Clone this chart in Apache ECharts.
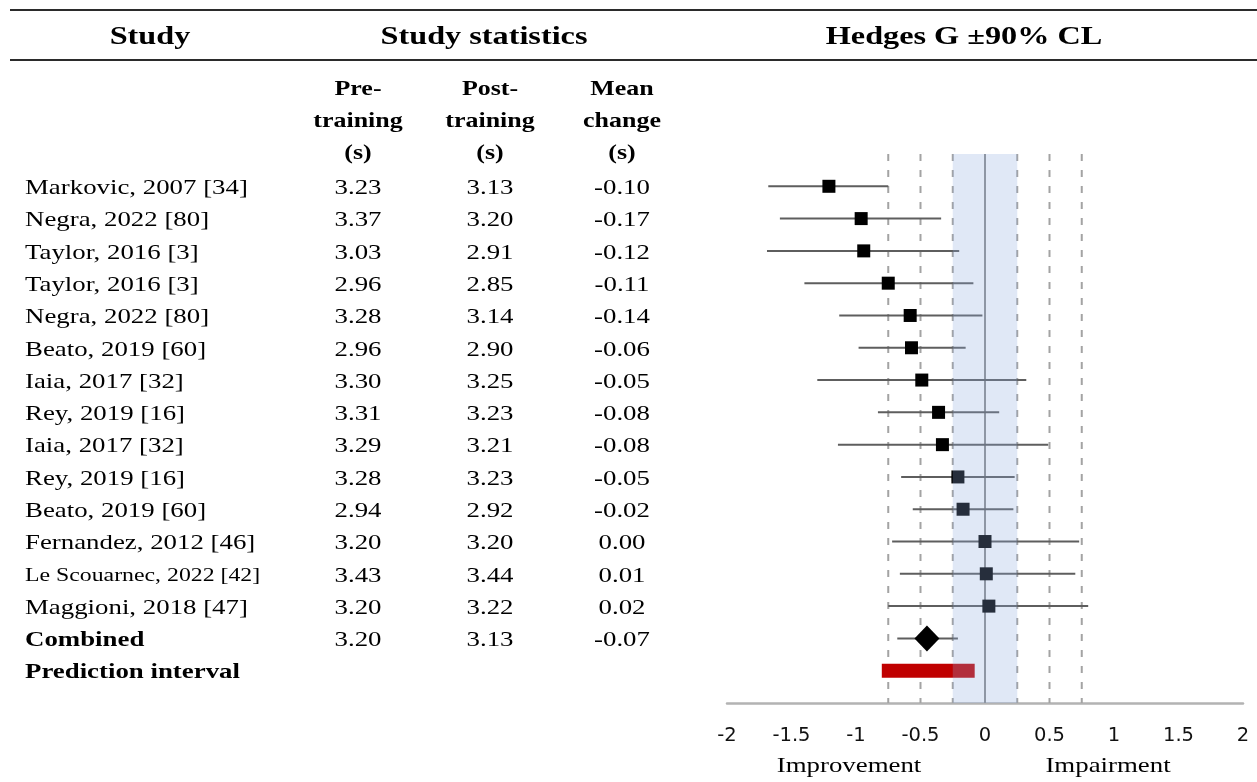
<!DOCTYPE html>
<html><head><meta charset="utf-8">
<script src="https://cdn.jsdelivr.net/npm/echarts@6/dist/echarts.min.js"></script>
<style>html,body{margin:0;padding:0;background:#fff}#chart{width:1257px;height:782px}</style>
</head><body><div id="chart"></div>
<script>
// ---------- data ----------
const studies = ['Markovic, 2007 [34]', 'Negra, 2022 [80]', 'Taylor, 2016 [3]', 'Taylor, 2016 [3]', 'Negra, 2022 [80]', 'Beato, 2019 [60]', 'Iaia, 2017 [32]', 'Rey, 2019 [16]', 'Iaia, 2017 [32]', 'Rey, 2019 [16]', 'Beato, 2019 [60]', 'Fernandez, 2012 [46]', 'Le Scouarnec, 2022 [42]', 'Maggioni, 2018 [47]'];
const preTraining = ['3.23', '3.37', '3.03', '2.96', '3.28', '2.96', '3.30', '3.31', '3.29', '3.28', '2.94', '3.20', '3.43', '3.20'];
const postTraining = ['3.13', '3.20', '2.91', '2.85', '3.14', '2.90', '3.25', '3.23', '3.21', '3.23', '2.92', '3.20', '3.44', '3.22'];
const meanChange = ['-0.10', '-0.17', '-0.12', '-0.11', '-0.14', '-0.06', '-0.05', '-0.08', '-0.08', '-0.05', '-0.02', '0.00', '0.01', '0.02'];
const hedgesG = [-1.21, -0.96, -0.94, -0.75, -0.58, -0.57, -0.49, -0.36, -0.33, -0.21, -0.17, 0.00, 0.01, 0.03];
const lowerCL = [-1.68, -1.59, -1.69, -1.40, -1.13, -0.98, -1.30, -0.83, -1.14, -0.65, -0.56, -0.72, -0.66, -0.75];
const upperCL = [-0.75, -0.34, -0.20, -0.09, -0.02, -0.15, 0.32, 0.11, 0.49, 0.23, 0.22, 0.73, 0.70, 0.80];
const combinedLabel = 'Combined';
const combinedStats = ['3.20', '3.13', '-0.07'];
const combinedG = [-0.45, -0.68, -0.21]; // estimate, lower, upper
const predictionLabel = 'Prediction interval';
const predictionInterval = [-0.80, -0.08];
const referenceLines = [-0.75, -0.5, -0.25, 0.25, 0.5, 0.75];
const trivialBand = [-0.25, 0.25];
const xTicks = { min: -2, max: 2, interval: 0.5 };
const headers = ['Study', 'Study statistics', 'Hedges G ±90% CL'];
const subHeaders = ['Pre-\ntraining\n(s)', 'Post-\ntraining\n(s)', 'Mean\nchange\n(s)'];
const directionLabels = ['Improvement', 'Impairment'];

// ---------- layout ----------
const Y_MIN = -1, Y_MAX = 16;
const SERIF = '"Liberation Serif","Times New Roman",serif';
const BODY_SCALE = 1.22;
const columnX = [25, 358, 490, 622];
const columnAlign = ['left', 'center', 'center', 'center'];
const smallNameRows = [12];
const combinedRow = studies.length, predictionRow = studies.length + 1;

const cells = [];
studies.forEach((s, i) => {
  cells.push({ col: 0, row: i, text: s, bold: false, size: smallNameRows.includes(i) ? 19.5 : 22 });
  cells.push({ col: 1, row: i, text: preTraining[i], bold: false, size: 22 });
  cells.push({ col: 2, row: i, text: postTraining[i], bold: false, size: 22 });
  cells.push({ col: 3, row: i, text: meanChange[i], bold: false, size: 22 });
});
cells.push({ col: 0, row: combinedRow, text: combinedLabel, bold: true, size: 22 });
combinedStats.forEach((v, k) => cells.push({ col: k + 1, row: combinedRow, text: v, bold: false, size: 22 }));
cells.push({ col: 0, row: predictionRow, text: predictionLabel, bold: true, size: 22 });

const errorData = hedgesG.map((g, i) => [lowerCL[i], upperCL[i], i]);
errorData.push([combinedG[1], combinedG[2], combinedRow]);

function txt(text, x, y, font, scale, align) {
  return {
    type: 'text', x: x, y: y, scaleX: scale, silent: true,
    style: { text: text, x: 0, y: 0, font: font, fill: '#000', lineHeight: 32, align: align, textAlign: align, verticalAlign: 'middle', textVerticalAlign: 'middle' }
  };
}

const chart = echarts.init(document.getElementById('chart'));
chart.setOption({
  animation: false,
  backgroundColor: '#fff',
  grid: [
    { left: 727, right: 14, top: 154, bottom: 79 },
    { left: 0, right: 0, top: 154, bottom: 79 }
  ],
  xAxis: [
    {
      type: 'value', gridIndex: 0, min: xTicks.min, max: xTicks.max, interval: xTicks.interval,
      axisLine: { onZero: false, lineStyle: { color: '#b3b3b3', width: 2.5 } },
      axisTick: { show: false }, splitLine: { show: false },
      axisLabel: { margin: 23, fontFamily: '"DejaVu Sans"', fontSize: 19.5, color: '#111', formatter: v => String(v) }
    },
    { type: 'value', gridIndex: 1, min: 0, max: 1257, show: false }
  ],
  yAxis: [
    { type: 'value', gridIndex: 0, min: Y_MIN, max: Y_MAX, inverse: true, show: false },
    { type: 'value', gridIndex: 1, min: Y_MIN, max: Y_MAX, inverse: true, show: false }
  ],
  graphic: [
    { type: 'line', silent: true, shape: { x1: 10, y1: 10, x2: 1257, y2: 10 }, style: { stroke: '#2b2b2b', lineWidth: 2 } },
    { type: 'line', silent: true, shape: { x1: 10, y1: 60, x2: 1257, y2: 60 }, style: { stroke: '#2b2b2b', lineWidth: 2 } },
    txt(headers[0], 150, 37, 'bold 26px ' + SERIF, 1.24, 'center'),
    txt(headers[1], 484, 37, 'bold 26px ' + SERIF, 1.24, 'center'),
    txt(headers[2], 964, 37, 'bold 26px ' + SERIF, 1.24, 'center'),
    txt(subHeaders[0], 358, 121, 'bold 22px ' + SERIF, 1.18, 'center'),
    txt(subHeaders[1], 490, 121, 'bold 22px ' + SERIF, 1.18, 'center'),
    txt(subHeaders[2], 622, 121, 'bold 22px ' + SERIF, 1.18, 'center'),
    txt(directionLabels[0], 849, 766, '22px ' + SERIF, 1.22, 'center'),
    txt(directionLabels[1], 1108, 766, '22px ' + SERIF, 1.22, 'center')
  ],
  series: [
    { // zero line (under the band)
      type: 'custom', xAxisIndex: 0, yAxisIndex: 0, z: 1, silent: true,
      data: [[0]], encode: { x: 0 },
      renderItem: (params, api) => {
        const a = api.coord([api.value(0), Y_MIN]), b = api.coord([api.value(0), Y_MAX]);
        return { type: 'line', shape: { x1: a[0], y1: a[1], x2: b[0], y2: b[1] }, style: { stroke: '#8f8f8f', lineWidth: 2 } };
      }
    },
    { // reference dashed lines
      type: 'custom', xAxisIndex: 0, yAxisIndex: 0, z: 1, silent: true,
      data: referenceLines.map(v => [v]),
      encode: { x: 0 },
      renderItem: (params, api) => {
        const a = api.coord([api.value(0), Y_MIN]), b = api.coord([api.value(0), Y_MAX]);
        return { type: 'line', shape: { x1: a[0], y1: a[1], x2: b[0], y2: b[1] }, style: { stroke: '#a3a3a3', lineWidth: 2, lineDash: [7, 9] } };
      }
    },
    { // confidence intervals
      type: 'custom', xAxisIndex: 0, yAxisIndex: 0, z: 2, silent: true,
      data: errorData, encode: { x: [0, 1], y: 2 },
      renderItem: (params, api) => {
        const a = api.coord([api.value(0), api.value(2)]), b = api.coord([api.value(1), api.value(2)]);
        return { type: 'line', shape: { x1: a[0], y1: a[1], x2: b[0], y2: b[1] }, style: { stroke: '#5e5e5e', lineWidth: 2 } };
      }
    },
    { // study estimates
      type: 'scatter', xAxisIndex: 0, yAxisIndex: 0, z: 3, silent: true,
      symbol: 'rect', symbolSize: 13, itemStyle: { color: '#000', opacity: 1 },
      data: hedgesG.map((g, i) => [g, i])
    },
    { // combined estimate
      type: 'scatter', xAxisIndex: 0, yAxisIndex: 0, z: 3, silent: true,
      symbol: 'diamond', symbolSize: [25, 26], itemStyle: { color: '#000', opacity: 1 },
      data: [[combinedG[0], combinedRow]]
    },
    { // prediction interval
      type: 'custom', xAxisIndex: 0, yAxisIndex: 0, z: 3, silent: true,
      data: [[predictionInterval[0], predictionInterval[1], predictionRow]], encode: { x: [0, 1], y: 2 },
      renderItem: (params, api) => {
        const a = api.coord([api.value(0), api.value(2)]), b = api.coord([api.value(1), api.value(2)]);
        return { type: 'rect', shape: { x: a[0], y: a[1] - 7, width: b[0] - a[0], height: 14 }, style: { fill: '#c00000' } };
      }
    },
    { // trivial-effect band
      type: 'custom', xAxisIndex: 0, yAxisIndex: 0, z: 5, silent: true,
      data: [trivialBand], encode: { x: [0, 1] },
      renderItem: (params, api) => {
        const a = api.coord([api.value(0), Y_MIN]), b = api.coord([api.value(1), Y_MAX]);
        return { type: 'rect', shape: { x: a[0], y: Math.min(a[1], b[1]), width: b[0] - a[0], height: Math.abs(b[1] - a[1]) }, style: { fill: 'rgba(140,170,220,0.27)' } };
      }
    },
    { // table text
      type: 'custom', xAxisIndex: 1, yAxisIndex: 1, z: 4, silent: true,
      data: cells.map(c => [columnX[c.col], c.row]), encode: { x: 0, y: 1 },
      renderItem: (params, api) => {
        const c = cells[params.dataIndex];
        const p = api.coord([api.value(0), api.value(1)]);
        const al = columnAlign[c.col];
        return txt(c.text, p[0], p[1] + 2, (c.bold ? 'bold ' : '') + c.size + 'px ' + SERIF, BODY_SCALE, al);
      }
    }
  ]
});
</script>
</body></html>
